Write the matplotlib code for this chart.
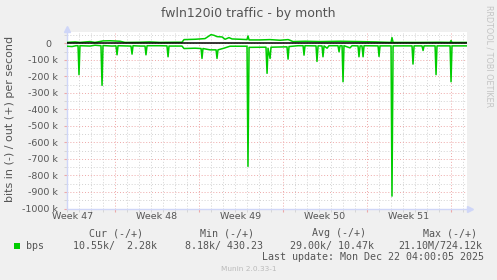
import matplotlib
matplotlib.use("Agg")
import matplotlib.pyplot as plt
from matplotlib.ticker import FixedLocator, FuncFormatter
from matplotlib.patches import Rectangle
import matplotlib.transforms as mtransforms

# ---------------- data (days since left edge, bits/s in thousands) ----------------
out_days = [0, 0.67, 1.08, 1.92, 2.33, 3.0, 3.58, 4.42, 4.83, 6.08, 6.92, 7.75, 9.0, 9.58,
            9.75, 10.67, 11.5, 12.0, 12.25, 12.5, 12.92, 13.17, 13.5, 13.75, 14.42, 15.0,
            15.08, 15.17, 16.08, 16.92, 17.75, 18.42, 18.58, 18.83, 19.83, 21.08, 22.75,
            24.42, 25.67, 26.5, 27.0, 27.08, 27.17, 29.42, 31.08, 31.92, 32.0, 32.08, 33.33]
out_k = [5, 8, 5, 10, 5, 14, 15, 12, 5, 6, 8, 5, 6, 6,
         22, 24, 28, 52, 48, 40, 38, 24, 34, 26, 24, 22,
         44, 20, 20, 22, 18, 22, 18, 10, 12, 10, 12,
         10, 8, 6, 5, 34, 5, 5, 6, 5, 16, 5, 5]

in_days = [0, 0.42, 0.75, 0.92, 1.0, 1.08, 1.92, 2.33, 2.83, 2.92, 3.0, 3.75, 4.08, 4.17,
           4.25, 5.25, 5.33, 5.42, 5.5, 6.08, 6.5, 6.58, 6.67, 7.75, 8.33, 8.42, 8.5, 9.58,
           9.75, 10.67, 11.17, 11.25, 11.33, 11.92, 12.42, 12.5, 12.58, 13.08, 13.58, 15.0,
           15.08, 15.17, 16.25, 16.58, 16.67, 16.75, 16.92, 17.0, 18.17, 18.33, 18.42, 18.5,
           19.25, 19.67, 19.75, 19.83, 20.75, 20.83, 20.92, 21.25, 21.33, 21.42, 21.67, 21.83,
           22.58, 22.67, 22.75, 22.92, 23.0, 23.08, 23.58, 23.75, 24.25, 24.33, 24.42, 24.58,
           24.67, 24.75, 25.92, 26.0, 26.08, 27.0, 27.08, 27.17, 28.75, 28.83, 28.92, 29.58,
           29.67, 29.75, 30.67, 30.75, 30.83, 31.92, 32.0, 32.08, 33.33]
in_k = [-18, -20, -15, -15, -190, -15, -17, -12, -15, -255, -14, -17, -16, -70,
        -15, -17, -17, -66, -15, -17, -17, -70, -15, -15, -16, -82, -17, -17,
        -32, -30, -32, -92, -32, -40, -40, -92, -40, -30, -18, -18,
        -745, -25, -24, -24, -182, -30, -92, -24, -22, -22, -96, -20,
        -15, -15, -72, -15, -16, -110, -16, -16, -82, -16, -30, -15,
        -15, -52, -15, -15, -233, -15, -28, -15, -16, -82, -16, -16,
        -82, -15, -16, -80, -16, -16, -925, -16, -16, -126, -16, -16,
        -44, -16, -16, -190, -16, -16, -233, -16, -16]

week_bounds = [4, 11, 18, 25, 32]
week_centers = [0.5, 7.5, 14.5, 21.5, 28.5]
week_labels = ["Week 47", "Week 48", "Week 49", "Week 50", "Week 51"]

title = "fwln120i0 traffic - by month"
ylabel = "bits in (-) / out (+) per second"
legend_headers = ["Cur (-/+)", "Min (-/+)", "Avg (-/+)", "Max (-/+)"]
legend_values = ["10.55k/  2.28k", "8.18k/ 430.23", "29.00k/ 10.47k", "21.10M/724.12k"]
series_name = "bps"
last_update = "Last update: Mon Dec 22 04:00:05 2025"
footer = "Munin 2.0.33-1"
side_text = "RRDTOOL / TOBI OETIKER"

# ---------------- style ----------------
W, H = 497, 280
BACK = "#F0F0F0"
FONT = "#555555"
AXIS = "#CFD6F8"
GRID = "#d2d2d2"
MGRID = "#eea8a8"
GREEN = "#00CC00"

plt.rcParams["font.family"] = ["DejaVu Sans"]

fig = plt.figure(figsize=(W / 100, H / 100), dpi=100, facecolor=BACK)
ax = fig.add_axes([67 / W, (H - 208.5) / H, 400 / W, (208.5 - 32) / H])
ax.set_facecolor("white")
ax.set_xlim(0, 33.33)
ax.set_ylim(-1000e3, 68e3)

# grid
ax.xaxis.set_major_locator(FixedLocator(week_bounds))
ax.xaxis.set_minor_locator(FixedLocator([d for d in range(0, 34) if d not in week_bounds]))
ax.yaxis.set_major_locator(FixedLocator([v * 1e3 for v in range(-1000, 1, 100)]))
ax.yaxis.set_minor_locator(FixedLocator([v * 1e3 for v in range(-950, 60, 100)]))
ax.grid(which="minor", color=GRID, linestyle=(0, (1, 2)), linewidth=0.7)
ax.grid(which="major", color=MGRID, linestyle=(0, (1, 2)), linewidth=0.7)
ax.set_axisbelow(True)

ax.xaxis.set_major_formatter(FuncFormatter(lambda v, p: ""))


def yfmt(v, p):
    k = int(round(v / 1e3))
    return "0\u2007" if k == 0 else f"{k} k"


ax.yaxis.set_major_formatter(FuncFormatter(yfmt))
ax.tick_params(axis="y", which="major", length=2, color=MGRID, labelsize=6.8,
               labelcolor=FONT, pad=4.3)
ax.tick_params(axis="y", which="minor", length=2, color=GRID)
ax.tick_params(axis="x", which="major", length=2, color=MGRID)
ax.tick_params(axis="x", which="minor", length=2, color=GRID)

tr = mtransforms.blended_transform_factory(ax.transData, ax.transAxes)
for c, lab in zip(week_centers, week_labels):
    ax.text(c, -0.022, lab, transform=tr, ha="center", va="top", fontsize=6.8, color=FONT)

for s in ["top", "right"]:
    ax.spines[s].set_visible(False)
for s in ["left", "bottom"]:
    ax.spines[s].set_color(AXIS)
    ax.spines[s].set_linewidth(1.0)

# arrows
ax.plot([1.0 + 3 / 400], [0], marker=">", markersize=4, color=AXIS, transform=ax.transAxes,
        clip_on=False)
ax.plot([0], [1.0 + 3 / 176.5], marker="^", markersize=4, color=AXIS, transform=ax.transAxes,
        clip_on=False)

# data
ax.plot(in_days, [v * 1e3 for v in in_k], color=GREEN, lw=1.1, zorder=3)
ax.plot(out_days, [v * 1e3 for v in out_k], color=GREEN, lw=1.1, zorder=3)
ax.axhline(0, color="black", lw=1.1, zorder=4)

# texts
fig.text(248.5 / W, 1 - 13 / H, title, ha="center", va="center", fontsize=9, color=FONT)
fig.text(10 / W, 1 - 119 / H, ylabel, ha="center", va="center", rotation=90,
         fontsize=8, color=FONT)
fig.text(488.5 / W, 1 - 56.5 / H, side_text, ha="center", va="center", rotation=270,
         fontsize=5.8, color="#c4c4c4")

mono = "DejaVu Sans Mono"
hdr_x = [116, 227, 339, 450]
val_x = [115.2, 223.9, 332.5, 440.2]
for x, t in zip(hdr_x, legend_headers):
    fig.text(x / W, 1 - 233 / H, t, ha="center", va="center", fontsize=7.2,
             family=mono, color=FONT)
for x, t in zip(val_x, legend_values):
    fig.text(x / W, 1 - 246 / H, t, ha="center", va="center", fontsize=7.2,
             family=mono, color=FONT)
fig.add_artist(Rectangle((14 / W, 1 - 249 / H), 6 / W, 6 / H, transform=fig.transFigure,
                         facecolor=GREEN, edgecolor="none"))
fig.text(26.2 / W, 1 - 246 / H, series_name, ha="left", va="center", fontsize=7.2,
         family=mono, color=FONT)
fig.text(483.5 / W, 1 - 257.5 / H, last_update, ha="right", va="center", fontsize=7.2,
         family=mono, color=FONT)
fig.text(248.7 / W, 1 - 269 / H, footer, ha="center", va="center", fontsize=5.3,
         color="#bbbbbb")

fig.savefig("out.png", dpi=100, facecolor=BACK)
